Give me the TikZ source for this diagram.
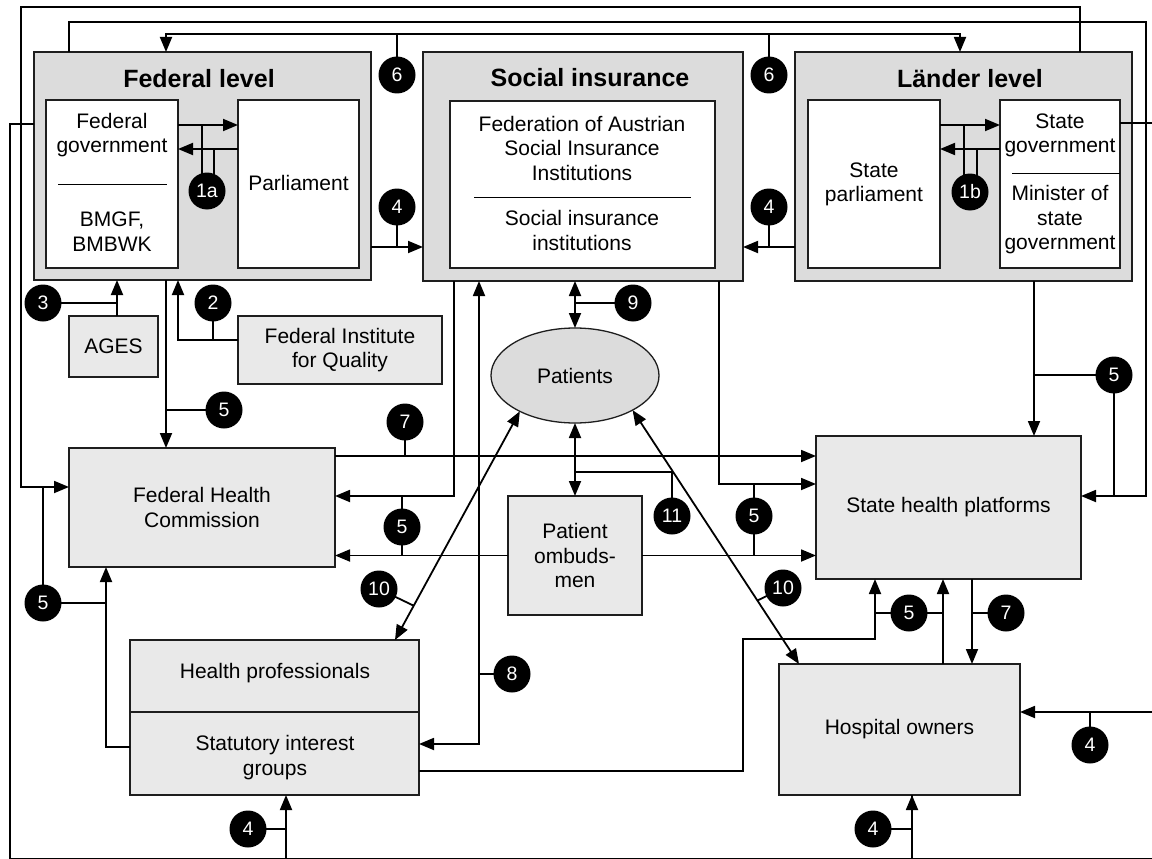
\documentclass[tikz,border=0pt]{standalone}
\usepackage{fontspec}
\setmainfont{Liberation Sans}
\usetikzlibrary{arrows.meta,shapes.geometric,calc}
\pgfdeclarelayer{foreground}
\pgfsetlayers{main,foreground}
\definecolor{levelfill}{RGB}{220,220,220}
\definecolor{boxfill}{RGB}{233,233,233}
\definecolor{edgecol}{RGB}{30,30,30}
\begin{document}
\begin{tikzpicture}[x=1pt,y=-1pt,
  every node/.style={inner sep=0pt, outer sep=0pt},
  levelbox/.style={draw=edgecol, line width=1.7pt, fill=levelfill, rectangle},
  innerbox/.style={draw=edgecol, line width=1.7pt, fill=white, rectangle},
  unitbox/.style={draw=edgecol, line width=1.7pt, fill=boxfill, rectangle},
  bodytext/.style={font=\fontsize{21}{24.5}\selectfont, align=center},
  headtext/.style={font=\fontsize{25}{30}\selectfont\bfseries},
  badge/.style={circle, fill=black, text=white, minimum size=37pt, font=\fontsize{19.5}{20}\selectfont},
  link/.style={line width=1.8pt},
  conn/.style={link, -{Triangle[length=15pt,width=12pt]}},
  conntwo/.style={link, {Triangle[length=15pt,width=12pt]}-{Triangle[length=15pt,width=12pt]}},
  sepline/.style={line width=1pt}
]
\useasboundingbox (0,0) rectangle (1152,859);
\clip (0,0) rectangle (1152,859);

% ---------- the three levels ----------
\node[levelbox, minimum width=337pt, minimum height=228pt] (fed) at (202.5,166) {};
\node[levelbox, minimum width=320pt, minimum height=229pt] (si) at (583,166.5) {};
\node[levelbox, minimum width=337pt, minimum height=229pt] (land) at (963.5,166.5) {};
\node[headtext] (fedT) at (199,79) {Federal level};
\node[headtext] (siT) at (590,78) {Social insurance};
\node[headtext] (landT) at (970,79) {Länder level};

\node[innerbox, minimum width=132pt, minimum height=168pt] (fedgov) at (112,184) {};
\node[innerbox, minimum width=121pt, minimum height=168pt] (parl) at (298.5,184) {};
\node[innerbox, minimum width=265pt, minimum height=167pt] (siin) at (582.5,184.5) {};
\node[innerbox, minimum width=132pt, minimum height=168pt] (stparl) at (874,184) {};
\node[innerbox, minimum width=120pt, minimum height=168pt] (stgov) at (1060,184) {};

\node[bodytext] (fedgovA) at (112,135) {Federal\\government};
\draw[sepline] ([xshift=12pt]fedgov.west) -- ([xshift=-11pt]fedgov.east);
\node[bodytext] (fedgovB) at (112,231.5) {BMGF,\\BMBWK};
\node[bodytext] (parlT) at (298.5,183) {Parliament};
\node[bodytext] (siA) at (582,148) {Federation of Austrian\\Social Insurance\\Institutions};
\draw[sepline] (474,197) -- (691,197);
\node[bodytext] (siB) at (582,230.5) {Social insurance\\institutions};
\node[bodytext] (stparlT) at (874,184.5) {State\\parliament};
\node[bodytext] (stgovA) at (1060,135.5) {State\\government};
\draw[sepline] (1012,173) -- (stgov.east |- 0,173);
\node[bodytext] (stgovB) at (1060,220) {Minister of\\state\\government};

% ---------- other actors ----------
\node[unitbox, minimum width=89pt, minimum height=61pt, bodytext] (ages) at (113.5,346.5) {AGES};
\node[unitbox, minimum width=204pt, minimum height=68pt, bodytext] (fiq) at (340,350) {Federal Institute\\for Quality};
\node[unitbox, minimum width=266pt, minimum height=119pt, bodytext] (fhc) at (202,507.5) {Federal Health\\Commission};
\node[draw=edgecol, ellipse, fill=levelfill, line width=1.3pt, minimum width=168pt, minimum height=95pt, bodytext] (pat) at (575,375.5) {Patients};
\node[unitbox, minimum width=134pt, minimum height=119pt, bodytext] (omb) at (575,555.5) {Patient\\ombuds-\\men};
\node[unitbox, minimum width=265pt, minimum height=143pt, bodytext] (shp) at (948.5,507.5) {State health platforms};
\node[unitbox, minimum width=289pt, minimum height=155pt] (hp) at (274.5,717.5) {};
\draw[line width=1.7pt, draw=edgecol] (hp.west |- 0,712) -- (hp.east |- 0,712);
\node[bodytext] (hpA) at (275,673) {Health professionals};
\node[bodytext] (hpB) at (275,757.5) {Statutory interest\\groups};
\node[unitbox, minimum width=241pt, minimum height=131pt, bodytext] (hosp) at (899.5,729.5) {Hospital owners};

% ---------- numbered badges ----------
\begin{pgfonlayer}{foreground}
\node[badge] (c1a) at (207,191) {1a};
\node[badge] (c1b) at (970,192) {1b};
\node[badge] (c6a) at (397,75) {6};
\node[badge] (c6b) at (769,75) {6};
\node[badge] (c4a) at (397,207) {4};
\node[badge] (c4b) at (769,207) {4};
\node[badge] (c3) at (43,303) {3};
\node[badge] (c2) at (213,303) {2};
\node[badge] (c5a) at (224,410) {5};
\node[badge] (c9) at (633,303) {9};
\node[badge] (c5b) at (1114,375) {5};
\node[badge] (c7a) at (405,422) {7};
\node[badge] (c5c) at (402,527) {5};
\node[badge] (c11) at (672,516) {11};
\node[badge] (c5d) at (754,516) {5};
\node[badge] (c5e) at (43,603) {5};
\node[badge] (c10a) at (379,589) {10};
\node[badge] (c10b) at (783,588) {10};
\node[badge] (c8) at (512,674) {8};
\node[badge] (c5f) at (909,613) {5};
\node[badge] (c7b) at (1006,613) {7};
\node[badge] (c4c) at (248,829) {4};
\node[badge] (c4d) at (873,829) {4};
\node[badge] (c4e) at (1090,745) {4};
\end{pgfonlayer}

% ---------- connectors ----------
% 1a: federal government and parliament
\draw[conn] (fedgov.east |- 0,125) -- (parl.west |- 0,125);
\draw[conn] (parl.west |- 0,149) -- (fedgov.east |- 0,149);
\draw[link] ([xshift=-5pt]c1a.center) -- ([xshift=-5pt]c1a.center |- 0,125);
\draw[link] ([xshift=7pt]c1a.center) -- ([xshift=7pt]c1a.center |- 0,149);
% 1b: state parliament and state government
\draw[conn] (stparl.east |- 0,125) -- (stgov.west |- 0,125);
\draw[conn] (stgov.west |- 0,149) -- (stparl.east |- 0,149);
\draw[link] ([xshift=-6pt]c1b.center) -- ([xshift=-6pt]c1b.center |- 0,125);
\draw[link] ([xshift=7pt]c1b.center) -- ([xshift=7pt]c1b.center |- 0,149);
% 4: both levels to social insurance
\draw[conn] (fed.east |- 0,247) -- (si.west |- 0,247);
\draw[conn] (land.west |- 0,247) -- (si.east |- 0,247);
\draw[link] (c4a.center) -- (c4a.center |- 0,247);
\draw[link] (c4b.center) -- (c4b.center |- 0,247);
% 6: federal level and Länder level
\draw[conntwo] (fed.north -| 166,0) -- (166,34) -- (960,34) -- (land.north -| 960,0);
\draw[link] (c6a.center) -- (c6a.center |- 0,34);
\draw[link] (c6b.center) -- (c6b.center |- 0,34);
% federal level to state health platforms
\draw[conn] (fed.north -| 69,0) -- (69,22) -- (1146,22) -- (1146,496) -- (shp.east |- 0,496);
\draw[link] (c5b.center) -- (c5b.center |- 0,496);
% Länder level to state health platforms
\draw[conn] (land.south -| 1034,0) -- (shp.north -| 1034,0);
\draw[link] (c5b.center) -- (c5b.center -| 1034,0);
% Länder level to federal health commission
\draw[conn] (land.north -| 1080,0) -- (1080,7) -- (21,7) -- (21,487) -- (fhc.west |- 0,487);
\draw[link] (c5e.center) -- (c5e.center |- 0,487);
% federal level to statutory groups and hospital owners (bottom loop)
\draw[conn] (fed.west |- 0,124) -| (10,859) -| (hp.south -| 286,0);
\draw[conn] (fed.west |- 0,124) -| (10,859) -| (hosp.south -| 912,0);
\draw[link] (hosp.south -| 912,0) |- (1152,859);
\draw[link] (c4c.center) -- (c4c.center -| 286,0);
\draw[link] (c4d.center) -- (c4d.center -| 912,0);
% state government to hospital owners (right loop)
\draw[conn] (stgov.east |- 0,123) -- (1170,123) -- (1170,712) -- (hosp.east |- 0,712);
\draw[link] (c4e.center) -- (c4e.center |- 0,712);
% AGES and federal institute for quality
\draw[conn] ([xshift=3.5pt]ages.north) -- ([xshift=3.5pt]ages.north |- fed.south);
\draw[link] (c3.center) -- (c3.center -| 117,0);
\draw[conn] (fiq.west |- 0,340) -| (fed.south -| 178,0);
\draw[link] (c2.center) -- (c2.center |- 0,340);
% federal level to federal health commission
\draw[conn] (fed.south -| 166,0) -- (fhc.north -| 166,0);
\draw[link] (c5a.center) -- (c5a.center -| 166,0);
% social insurance to both commissions
\draw[conn] (si.south -| 454,0) |- (fhc.east |- 0,496);
\draw[conn] (omb.west) -- (fhc.east |- omb.west);
\draw[link] (c5c.center |- 0,496) -- (c5c.center |- omb.west);
\draw[conn] (omb.east) -- (shp.west |- omb.east);
\draw[conn] (si.south -| 719,0) |- (shp.west |- 0,484);
\draw[link] (c5d.center |- 0,484) -- (c5d.center |- omb.east);
% 7: federal health commission to state health platforms
\draw[conn] (fhc.east |- 0,456) -- (shp.west |- 0,456);
\draw[link] (c7a.center) -- (c7a.center |- 0,456);
% 9 and 11: patients
\draw[conntwo] (si.south -| pat.north) -- (pat.north);
\draw[link] (c9.center) -- (c9.center -| pat.north);
\draw[conntwo] (pat.south) -- (omb.north);
\draw[link] (pat.south |- 0,472) -| (c11.center);
% 8: social insurance and statutory interest groups
\draw[conntwo] (hp.east |- 0,744) -| (si.south -| 479,0);
\draw[link] (c8.center) -- (c8.center -| 479,0);
% 10: patients with health professionals and hospital owners
\draw[conntwo] (pat.213) -- ([xshift=120.5pt]hp.north);
\draw[link] (c10a.center) -- ($(pat.213)!0.85!([xshift=120.5pt]hp.north)$);
\draw[conntwo] (pat.329) -- ([xshift=20pt]hosp.north west);
\draw[link] (c10b.center) -- ($(pat.329)!0.75!([xshift=20pt]hosp.north west)$);
% statutory interest groups and hospital owners to state health platforms
\draw[conn] (hp.east |- 0,771) -| (743,639) -| (shp.south -| 875,0);
\draw[conn] (hosp.north -| 943,0) -- (shp.south -| 943,0);
\draw[link] (c5f.center -| 875,0) -- (c5f.center -| 943,0);
\draw[conn] (shp.south -| 972,0) -- (hosp.north -| 972,0);
\draw[link] (c7b.center) -- (c7b.center -| 972,0);
% statutory interest groups to federal health commission
\draw[conn] (hp.west |- 0,747) -| (fhc.south -| 106,0);
\draw[link] (c5e.center) -- (c5e.center -| 106,0);
\end{tikzpicture}
\end{document}
